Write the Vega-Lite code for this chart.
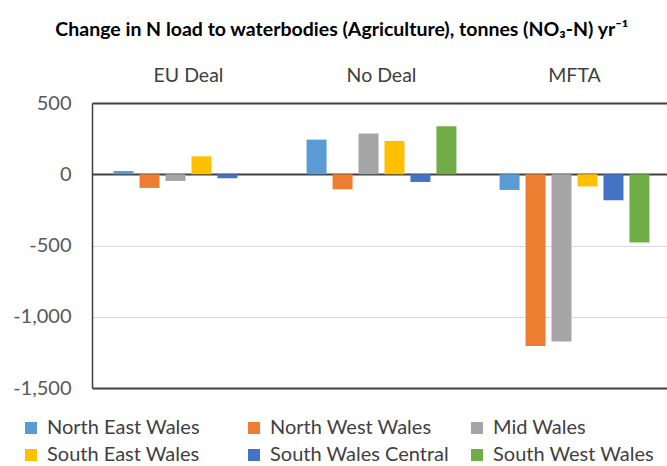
{
  "$schema": "https://vega.github.io/schema/vega-lite/v6.json",
  "width": 575,
  "height": 285,
  "autosize": {"type": "none"},
  "padding": {"left": 92, "top": 103, "right": 0, "bottom": 78},
  "background": "white",
  "title": {
    "text": "Change in N load to waterbodies (Agriculture), tonnes (NO₃-N) yr⁻¹",
    "font": "Lato",
    "fontSize": 19.5,
    "fontWeight": "bold",
    "color": "#000000",
    "anchor": "middle",
    "frame": "bounds",
    "offset": 25
  },
  "data": {
    "values": [
      {"scenario": "EU Deal", "region": "North East Wales", "value": 23},
      {"scenario": "EU Deal", "region": "North West Wales", "value": -96},
      {"scenario": "EU Deal", "region": "Mid Wales", "value": -47},
      {"scenario": "EU Deal", "region": "South East Wales", "value": 126},
      {"scenario": "EU Deal", "region": "South Wales Central", "value": -28},
      {"scenario": "EU Deal", "region": "South West Wales", "value": 0},
      {"scenario": "No Deal", "region": "North East Wales", "value": 243},
      {"scenario": "No Deal", "region": "North West Wales", "value": -105},
      {"scenario": "No Deal", "region": "Mid Wales", "value": 286},
      {"scenario": "No Deal", "region": "South East Wales", "value": 234},
      {"scenario": "No Deal", "region": "South Wales Central", "value": -54},
      {"scenario": "No Deal", "region": "South West Wales", "value": 337},
      {"scenario": "MFTA", "region": "North East Wales", "value": -110},
      {"scenario": "MFTA", "region": "North West Wales", "value": -1206},
      {"scenario": "MFTA", "region": "Mid Wales", "value": -1173},
      {"scenario": "MFTA", "region": "South East Wales", "value": -86},
      {"scenario": "MFTA", "region": "South Wales Central", "value": -182},
      {"scenario": "MFTA", "region": "South West Wales", "value": -479}
    ]
  },
  "mark": {"type": "bar"},
  "encoding": {
    "x": {
      "field": "scenario",
      "type": "nominal",
      "sort": ["EU Deal", "No Deal", "MFTA"],
      "scale": {"range": [0, 579], "paddingInner": 0, "paddingOuter": 0},
      "axis": {
        "orient": "top",
        "title": null,
        "ticks": false,
        "tickSize": 0,
        "domain": false,
        "labelAngle": 0,
        "labelFont": "Lato",
        "labelFontSize": 19.5,
        "labelColor": "#404040",
        "labelPadding": 18
      }
    },
    "xOffset": {
      "field": "region",
      "type": "nominal",
      "sort": ["North East Wales", "North West Wales", "Mid Wales", "South East Wales", "South Wales Central", "South West Wales"],
      "scale": {"paddingInner": 0.23, "paddingOuter": 0.83}
    },
    "y": {
      "field": "value",
      "type": "quantitative",
      "scale": {"domain": [-1500, 500], "nice": false},
      "axis": {
        "values": [-1500, -1000, -500, 0, 500],
        "labelExpr": "replace(format(datum.value, ','), '−', '-')",
        "title": null,
        "ticks": false,
        "domain": true,
        "domainColor": "#404040",
        "domainWidth": 1.5,
        "labelFont": "Lato",
        "labelFontSize": 20,
        "labelColor": "#595959",
        "labelPadding": 21,
        "grid": true,
        "gridColor": {"condition": {"test": "datum.value == -500 || datum.value == -1000", "value": "#d9d9d9"}, "value": "#404040"},
        "gridWidth": {"condition": {"test": "datum.value == -500 || datum.value == -1000", "value": 1}, "value": 1.8}
      }
    },
    "color": {
      "field": "region",
      "type": "nominal",
      "sort": ["North East Wales", "North West Wales", "Mid Wales", "South East Wales", "South Wales Central", "South West Wales"],
      "scale": {
        "domain": ["North East Wales", "North West Wales", "Mid Wales", "South East Wales", "South Wales Central", "South West Wales"],
        "range": ["#5B9BD5", "#ED7D31", "#A5A5A5", "#FFC000", "#4472C4", "#70AD47"]
      },
      "legend": {
        "orient": "none",
        "legendX": -71,
        "legendY": 315,
        "direction": "horizontal",
        "columns": 3,
        "gridAlign": "all",
        "title": null,
        "symbolType": "square",
        "symbolSize": 144,
        "symbolStrokeWidth": 0,
        "labelFont": "Lato",
        "labelFontSize": 20,
        "labelColor": "#404040",
        "labelOffset": 6,
        "labelLimit": 300,
        "columnPadding": 18,
        "rowPadding": 7,
        "padding": 0
      }
    }
  },
  "config": {"view": {"stroke": null}}
}
